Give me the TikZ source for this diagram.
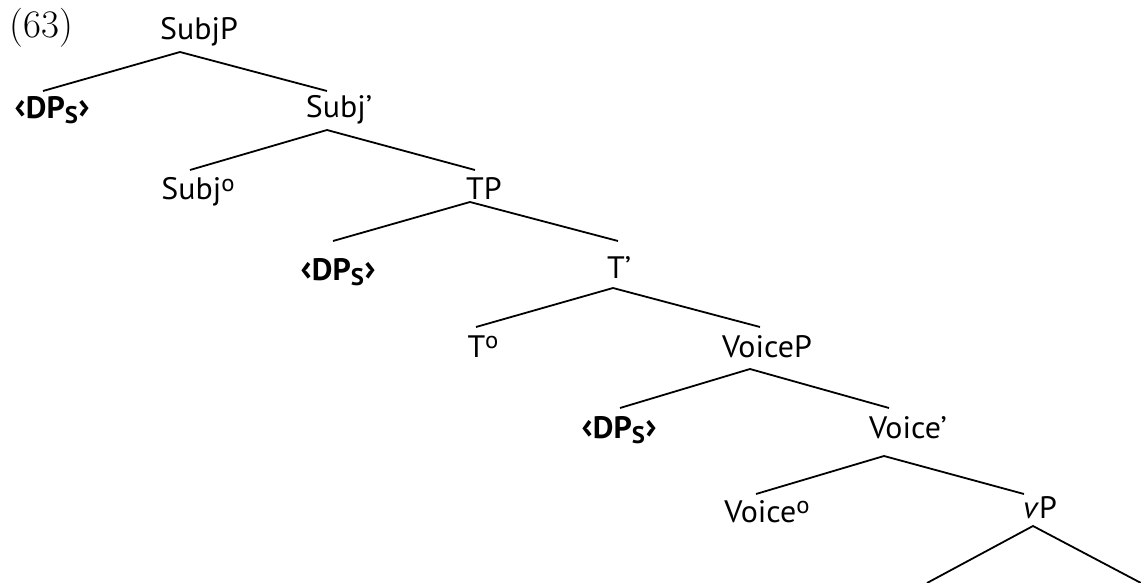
\documentclass[tikz,border=0pt]{standalone}
\usepackage{fontspec}
\setsansfont[FakeStretch=1.03]{PT Sans}
\tikzset{
  lab/.style={anchor=base, inner sep=0pt, font=\sffamily\fontsize{31}{36}\selectfont},
  dpl/.style={anchor=base, inner sep=0pt, font=\sffamily\bfseries\fontsize{31}{36}\selectfont},
  br/.style={line width=1.8pt, line cap=butt}
}
\newcommand{\dgr}{\raisebox{9pt}{\fontsize{24}{26}\selectfont o}}
\newcommand{\dps}{{\fontsize{37}{38}\selectfont‹}DP\raisebox{-5pt}{\fontsize{24}{28}\selectfont S}{\fontsize{37}{38}\selectfont›}}
\begin{document}
\begin{tikzpicture}[x=1pt,y=-1pt]
\useasboundingbox (0,0) rectangle (1141,583);
% labels
\node[anchor=base, inner sep=0pt, font=\rmfamily\fontsize{39}{44}\selectfont] (ex) at (41.5,38) {(63)};
\node[lab] (subjp) at (199,40) {SubjP};
\node[dpl] (dp1) at (52,119) {\dps};
\node[lab] (subjb) at (339,118) {Subj’};
\node[lab] (subj0) at (198,200) {Subj\dgr};
\node[lab] (tp) at (484,200) {TP};
\node[dpl] (dp2) at (338,280) {\dps};
\node[lab] (tb) at (619,278) {T’};
\node[lab] (t0) at (483,357) {T\dgr};
\node[lab] (voicep) at (767,357) {VoiceP};
\node[dpl] (dp3) at (619,438) {\dps};
\node[lab] (voiceb) at (908,438) {Voice’};
\node[lab] (voice0) at (767,522) {Voice\dgr};
\node[lab] (vp) at (1040,518) {\textit{v}P};
% branch points
\coordinate (subjp-t) at (180,52);
\coordinate (dp1-t) at (43,91);
\coordinate (subjb-u) at (327,91);
\coordinate (subjb-t) at (327,130);
\coordinate (subj0-t) at (190,170);
\coordinate (tp-u) at (475,170);
\coordinate (tp-t) at (470,202);
\coordinate (dp2-t) at (333,241);
\coordinate (tb-u) at (618,241);
\coordinate (tb-t) at (613,288);
\coordinate (t0-t) at (476,327);
\coordinate (voicep-u) at (760,327);
\coordinate (voicep-t) at (750,369);
\coordinate (dp3-t) at (620,408);
\coordinate (voiceb-u) at (889,408);
\coordinate (voiceb-t) at (884,456);
\coordinate (voice0-t) at (756,494);
\coordinate (vp-u) at (1024,494);
\coordinate (vp-t) at (1033,526);
\coordinate (vl-t) at (927,583);
\coordinate (vr-t) at (1141,583);
% branches
\draw[br] (dp1-t) -- (subjp-t) -- (subjb-u);
\draw[br] (subj0-t) -- (subjb-t) -- (tp-u);
\draw[br] (dp2-t) -- (tp-t) -- (tb-u);
\draw[br] (t0-t) -- (tb-t) -- (voicep-u);
\draw[br] (dp3-t) -- (voicep-t) -- (voiceb-u);
\draw[br] (voice0-t) -- (voiceb-t) -- (vp-u);
\draw[br] (vl-t) -- (vp-t) -- (vr-t);
\end{tikzpicture}
\end{document}
